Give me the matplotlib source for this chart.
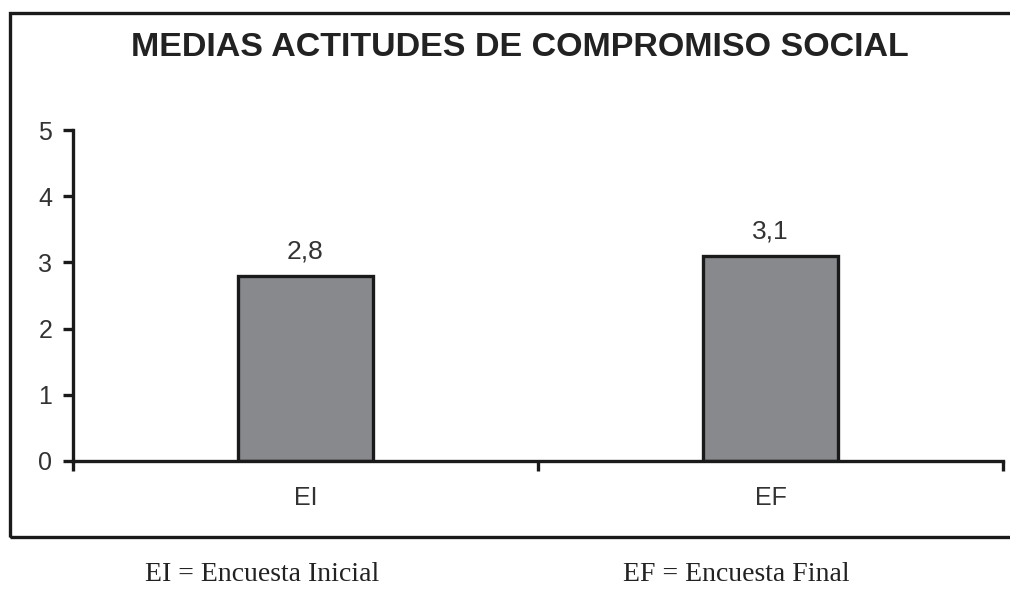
import matplotlib.pyplot as plt
from matplotlib.patches import Rectangle

categories = ['EI', 'EF']
means = [2.8, 3.1]
value_labels = ['2,8', '3,1']
y_ticks = [0, 1, 2, 3, 4, 5]
notes = ['EI = Encuesta Inicial', 'EF = Encuesta Final']

W, H = 1010, 589
fig = plt.figure(figsize=(W / 100, H / 100), dpi=100)

# outer frame of the chart
fig.patches.append(Rectangle((10 / W, 1 - 537 / H), 1.2, (537 - 13) / H,
                             transform=fig.transFigure, fill=False,
                             edgecolor='#1a1a1a', linewidth=2.4))

ax = fig.add_axes([73 / W, 1 - 461 / H, (1003 - 73) / W, (461 - 130) / H])
x = list(range(len(categories)))
bars = ax.bar(x, means, width=0.29, color='#88898d', edgecolor='#1a1a1a',
              linewidth=2.4)
for b, lab in zip(bars, value_labels):
    ax.text(b.get_x() + b.get_width() / 2, b.get_height() + 0.18, lab,
            ha='center', va='bottom', fontsize=19, color='#333333',
            family='Liberation Sans')

ax.set_xlim(-0.5, len(categories) - 0.5)
ax.set_ylim(0, 5)
ax.set_yticks(y_ticks)
ax.set_yticklabels([str(t) for t in y_ticks], fontsize=18, color='#333333',
                   family='Liberation Sans')
ax.set_xticks(x)
ax.set_xticklabels(categories, fontsize=18, color='#333333',
                   family='Liberation Sans')
ax.set_xticks([i - 0.5 for i in range(len(categories) + 1)], minor=True)
ax.tick_params(axis='x', which='major', length=0, pad=18)
ax.tick_params(axis='x', which='minor', length=7, width=2.4, direction='out',
               color='#1a1a1a')
ax.tick_params(axis='y', length=7, width=2.4, direction='out', pad=8,
               color='#1a1a1a')
for s in ['top', 'right']:
    ax.spines[s].set_visible(False)
for s in ['left', 'bottom']:
    ax.spines[s].set_linewidth(2.4)
    ax.spines[s].set_color('#1a1a1a')

fig.text(520 / W, 1 - 48 / H, 'MEDIAS ACTITUDES DE COMPROMISO SOCIAL',
         ha='center', va='center', fontsize=24.5, fontweight='bold',
         color='#222222', family='Liberation Sans')

fig.text(262 / W, 1 - 581 / H, notes[0], ha='center', va='baseline',
         fontsize=20, color='#222222', family='Liberation Serif')
fig.text(736 / W, 1 - 581 / H, notes[1], ha='center', va='baseline',
         fontsize=20, color='#222222', family='Liberation Serif')

fig.savefig('out.png', dpi=100)
